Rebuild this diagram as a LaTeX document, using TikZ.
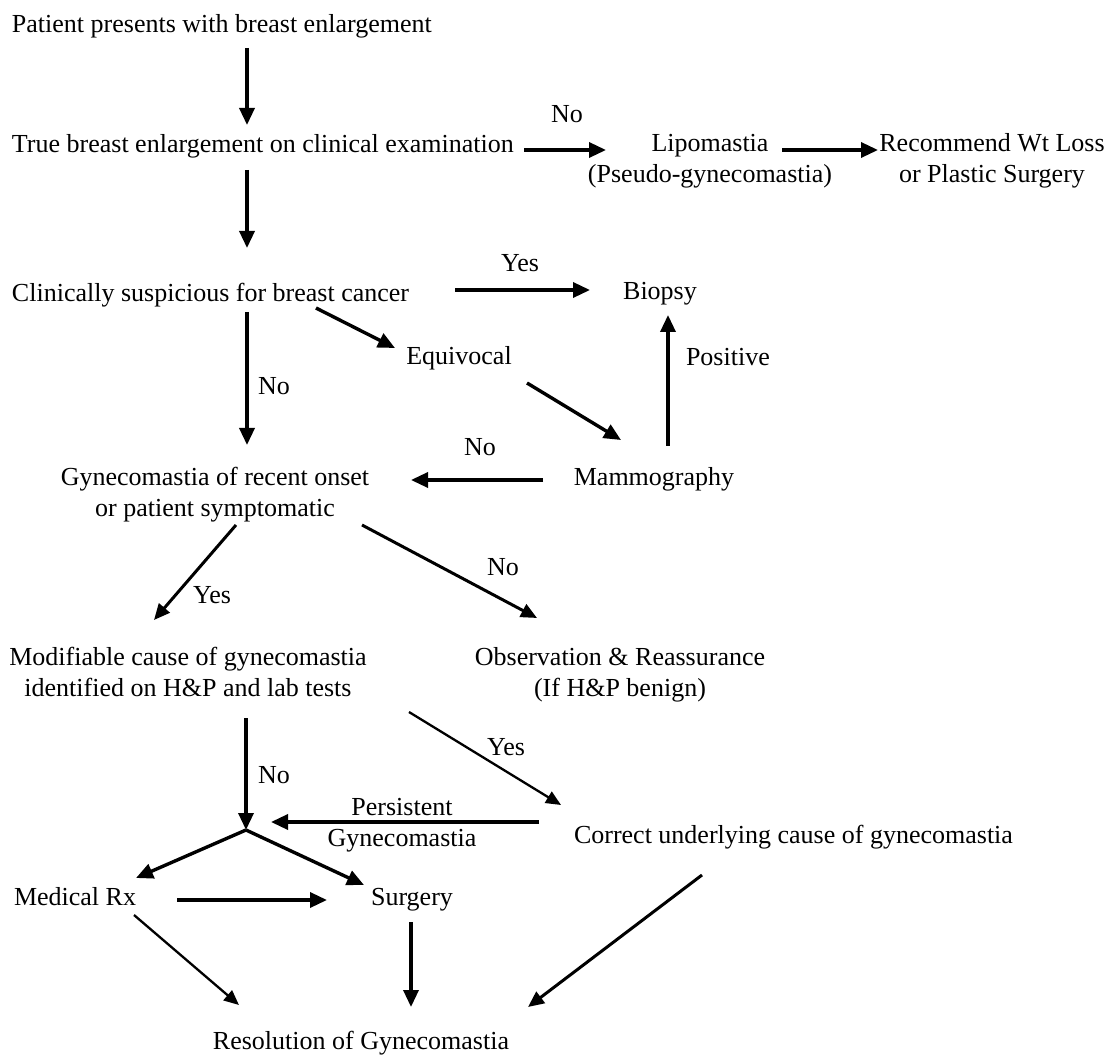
\documentclass[tikz,border=0pt]{standalone}
\usepackage{fontspec}
\setmainfont{Liberation Serif}
\usetikzlibrary{arrows.meta}
\begin{document}
\begin{tikzpicture}[x=1pt,y=-1pt,
  txt/.style={inner sep=0pt,outer sep=0pt,font=\fontsize{26}{31}\selectfont,align=center},
  arr/.style={line width=3.4pt,-{Triangle[length=17pt,width=15pt]}},
  arrmid/.style={line width=3pt,-{Triangle[length=16pt,width=14pt]}},
  arrthin/.style={line width=2.3pt,-{Triangle[length=15pt,width=13pt]}},
]
\fill[white] (0,0) rectangle (1114,1056);
\useasboundingbox (0,0) rectangle (1114,1056);

% nodes (base = baseline of the last line)
\node[txt,anchor=base west] (pat) at (12,33) {Patient presents with breast enlargement};
\node[txt,anchor=base west] (true) at (12,153) {True breast enlargement on clinical examination};
\node[txt,anchor=base] (no1) at (567,123) {No};
\node[txt,anchor=base] (lipo) at (710,183) {Lipomastia\\(Pseudo-gynecomastia)};
\node[txt,anchor=base] (rec) at (992,183) {Recommend Wt Loss\\or Plastic Surgery};
\node[txt,anchor=base] (yes1) at (520,272) {Yes};
\node[txt,anchor=base west] (clin) at (12,302) {Clinically suspicious for breast cancer};
\node[txt,anchor=base] (biopsy) at (660,300) {Biopsy};
\node[txt,anchor=base] (equiv) at (459,365) {Equivocal};
\node[txt,anchor=base] (no2) at (274,395) {No};
\node[txt,anchor=base west] (pos) at (686,366) {Positive};
\node[txt,anchor=base] (no3) at (480,455) {No};
\node[txt,anchor=base] (mammo) at (654,485) {Mammography};
\node[txt,anchor=base] (gyn) at (215,516) {Gynecomastia of recent onset\\or patient symptomatic};
\node[txt,anchor=base] (yes2) at (212,603) {Yes};
\node[txt,anchor=base] (no4) at (503,575) {No};
\node[txt,anchor=base] (mod) at (188,696) {Modifiable cause of gynecomastia\\identified on H\&P and lab tests};
\node[txt,anchor=base] (obs) at (620,696) {Observation \& Reassurance\\(If H\&P benign)};
\node[txt,anchor=base] (no5) at (274,783) {No};
\node[txt,anchor=base] (yes3) at (506,755) {Yes};
\node[txt,anchor=base] (pers) at (402,846) {Persistent\\Gynecomastia};
\node[txt,anchor=base west] (corr) at (574,843) {Correct underlying cause of gynecomastia};
\node[txt,anchor=base west] (medrx) at (14,905) {Medical Rx};
\node[txt,anchor=base] (surg) at (412,905) {Surgery};
\node[txt,anchor=base] (res) at (361,1049) {Resolution of Gynecomastia};
\coordinate (jn) at (246,830);

% connectors
\draw[arr] ([shift={(235,15)}]pat.base west) -- ([shift={(235,-28)}]true.base west);
\draw[arr] ([shift={(512,-3)}]true.base west) -- ([shift={(-104,-33)}]lipo.base);
\draw[arr] ([shift={(72,-33)}]lipo.base) -- ([shift={(-114,-33)}]rec.base);
\draw[arr] ([shift={(235,17)}]true.base west) -- ([shift={(235,-54)}]clin.base west);
\draw[arr] ([shift={(443,-12)}]clin.base west) -- ([shift={(-70,-10)}]biopsy.base);
\draw[arr] ([shift={(304,6)}]clin.base west) -- ([shift={(-64,-17)}]equiv.base);
\draw[arr] ([shift={(235,10)}]clin.base west) -- ([shift={(32,-71)}]gyn.base);
\draw[arr] ([shift={(68,18)}]equiv.base) -- ([shift={(-33,-45)}]mammo.base);
\draw[arr] ([shift={(14,-39)}]mammo.base) -- ([shift={(8,15)}]biopsy.base);
\draw[arr] ([shift={(-111,-5)}]mammo.base) -- ([shift={(196,-36)}]gyn.base);
\draw[arrmid] ([shift={(21,9)}]gyn.base) -- ([shift={(-34,-76)}]mod.base);
\draw[arrmid] ([shift={(147,9)}]gyn.base) -- ([shift={(-83,-78)}]obs.base);
\draw[arr] ([shift={(58,22)}]mod.base) -- (jn);
\draw[arrthin] ([shift={(221,16)}]mod.base) -- ([shift={(-13,-38)}]corr.base west);
\draw[arr] ([shift={(-35,-21)}]corr.base west) -- ([shift={(25,-8)}]jn);
\draw[arr] (jn) -- ([shift={(122,-27)}]medrx.base west);
\draw[arr] (jn) -- ([shift={(-48,-20)}]surg.base);
\draw[arr] ([shift={(163,-5)}]medrx.base west) -- ([shift={(-85,-5)}]surg.base);
\draw[arr] ([shift={(-1,17)}]surg.base) -- ([shift={(50,-42)}]res.base);
\draw[arrthin] ([shift={(120,10)}]medrx.base west) -- ([shift={(-122,-44)}]res.base);
\draw[arrmid] ([shift={(128,32)}]corr.base west) -- ([shift={(167,-42)}]res.base);
\end{tikzpicture}
\end{document}
